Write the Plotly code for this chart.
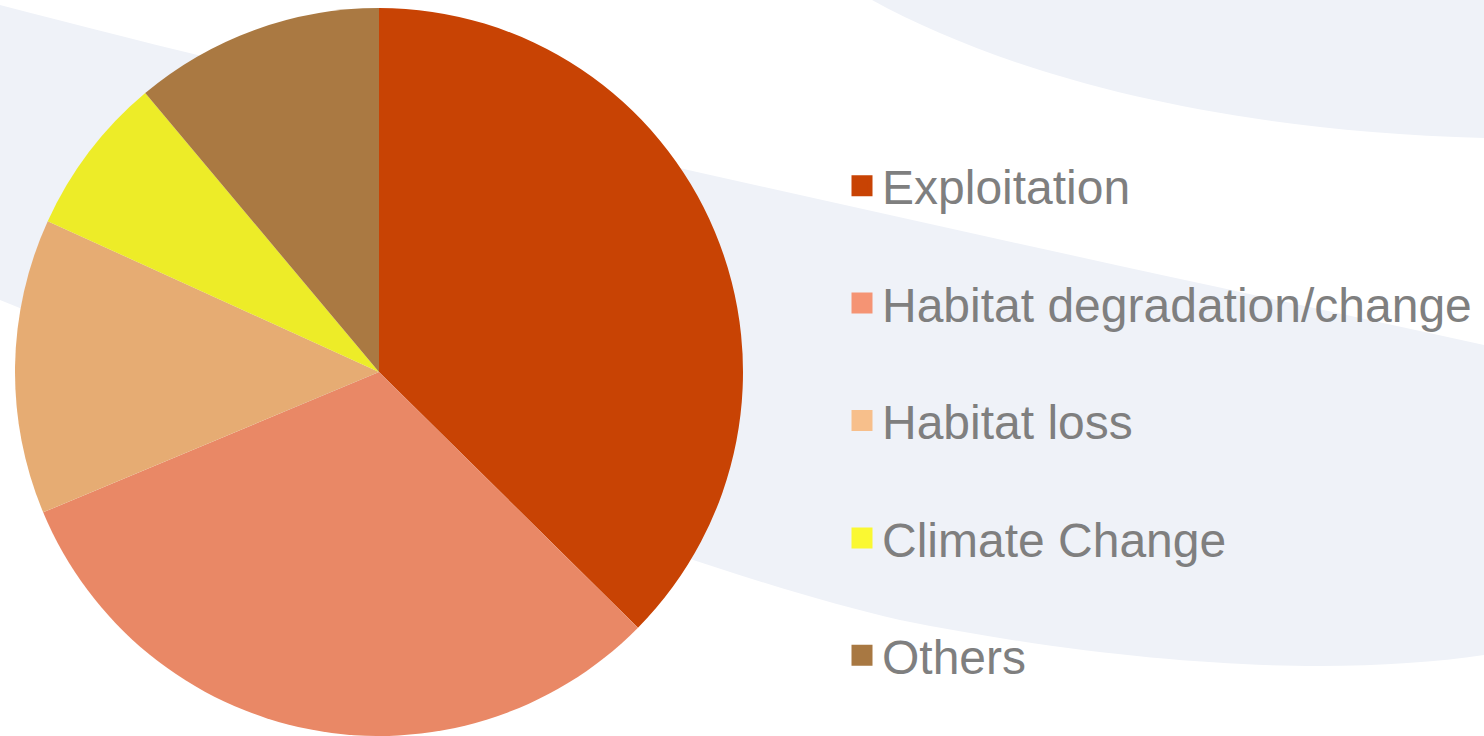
import plotly.graph_objects as go

# ---- data ----
labels = ["Exploitation", "Habitat degradation/change", "Habitat loss", "Climate Change", "Others"]
values = [37.4, 31.3, 13.1, 7.1, 11.1]
pie_colors = ["#C84304", "#E98866", "#E6AC73", "#EDEC28", "#AA7942"]
legend_colors = ["#C84304", "#F59474", "#F7BF8B", "#FAF832", "#A87842"]

W, H = 1484, 736
BAND = "#EFF2F8"


def px(x, y):
    """pixel (y down) -> paper coords string"""
    return f"{x / W:.5f},{1 - y / H:.5f}"


def path(cmds):
    out = []
    for c in cmds:
        op, pts = c[0], c[1:]
        out.append(op + " " + " ".join(px(*p) for p in pts))
    return " ".join(out) + " Z"


top_band = path([
    ("M", (872, 0)),
    ("C", (1000, 70), (1200, 130), (W, 138)),
    ("L", (W, 0)),
])
mid_band = path([
    ("M", (0, 5)),
    ("C", (400, 110), (1000, 240), (W, 345)),
    ("L", (W, 655)),
    ("C", (1350, 675), (1150, 670), (900, 620)),
    ("C", (700, 575), (300, 420), (0, 300)),
])

fig = go.Figure()

fig.add_trace(go.Pie(
    labels=labels,
    values=values,
    sort=False,
    direction="clockwise",
    rotation=0,
    marker=dict(colors=pie_colors, line=dict(width=0)),
    textinfo="none",
    hoverinfo="label+percent",
    showlegend=False,
    domain=dict(x=[15 / W, 743 / W], y=[0, 728 / H]),
))

for i, (lab, col) in enumerate(zip(labels, legend_colors)):
    fig.add_trace(go.Scatter(
        x=[None], y=[None], mode="markers", name=lab,
        legendgroup=f"g{i}",
        marker=dict(symbol="square", size=16, color=col,
                    line=dict(width=6, color=col)),
        hoverinfo="skip",
    ))

fig.update_layout(
    width=W, height=H,
    margin=dict(l=0, r=0, t=0, b=0),
    paper_bgcolor="white",
    plot_bgcolor="rgba(0,0,0,0)",
    xaxis=dict(visible=False),
    yaxis=dict(visible=False),
    shapes=[
        dict(type="path", xref="paper", yref="paper", path=top_band,
             fillcolor=BAND, line=dict(width=0), layer="below"),
        dict(type="path", xref="paper", yref="paper", path=mid_band,
             fillcolor=BAND, line=dict(width=0), layer="below"),
    ],
    legend=dict(
        x=842 / W, xanchor="left",
        y=1 - 148 / H, yanchor="top",
        font=dict(family="Liberation Sans, Arial, sans-serif", size=48, color="#7F7F7F"),
        bgcolor="rgba(0,0,0,0)",
        tracegroupgap=52,
        itemsizing="trace",
    ),
    font=dict(family="Liberation Sans, Arial, sans-serif"),
)

fig.write_html("out.html", config={"displayModeBar": False},
               post_script="document.body.style.margin='0';")
